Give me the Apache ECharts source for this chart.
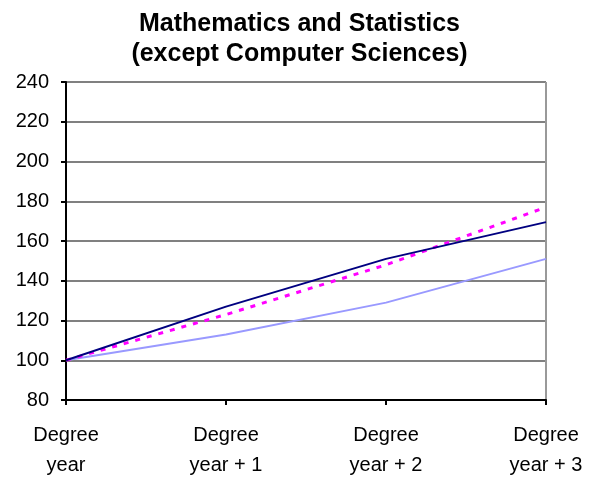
<!DOCTYPE html>
<html><head><meta charset="utf-8">
<script src="https://cdn.jsdelivr.net/npm/echarts@6/dist/echarts.min.js"></script>
<style>html,body{margin:0;padding:0;background:#fff}#c{width:599px;height:477px}</style>
</head><body><div id="c"></div>
<script>
const categories = ["Degree\nyear", "Degree\nyear + 1", "Degree\nyear + 2", "Degree\nyear + 3"];
const seriesNavy = [100, 127, 151, 169.5];
const seriesLight = [100, 113, 129, 151];
const seriesMagenta = [100, 123, 148, 177];
const yTicks = {min: 80, max: 240, interval: 20};

const chart = echarts.init(document.getElementById('c'), null, {renderer: 'canvas'});
const font = 'Liberation Sans, Arial, sans-serif';
chart.setOption({
  animation: false,
  backgroundColor: '#fff',
  title: {
    text: 'Mathematics and Statistics\n(except Computer Sciences)',
    left: 'center', top: 4,
    textStyle: {fontFamily: font, fontSize: 25, fontWeight: 'bold', color: '#000', lineHeight: 30}
  },
  grid: {left: 66, right: 53, top: 82, bottom: 77, containLabel: false, outerBoundsMode: 'none'},
  xAxis: {
    type: 'category', data: categories, boundaryGap: false,
    axisLine: {lineStyle: {color: '#000', width: 2}},
    axisTick: {show: true, length: 5, lineStyle: {color: '#000', width: 2}},
    axisLabel: {fontFamily: font, fontSize: 20, color: '#000', lineHeight: 30, margin: 20},
    splitLine: {show: true, interval: function (i) { return i === categories.length - 1; }, lineStyle: {color: '#999', width: 2}},
    splitArea: {show: false}
  },
  yAxis: {
    type: 'value', min: yTicks.min, max: yTicks.max, interval: yTicks.interval,
    axisLine: {show: true, lineStyle: {color: '#000', width: 2}},
    axisTick: {show: true, length: 5, lineStyle: {color: '#000', width: 2}},
    axisLabel: {fontFamily: font, fontSize: 20, color: '#000', margin: 17},
    splitLine: {show: true, lineStyle: {color: '#808080', width: 2}}
  },
  series: [
    {type: 'line', data: seriesLight, showSymbol: false, lineStyle: {color: '#9999FF', width: 2}, z: 2},
    {type: 'line', data: seriesMagenta, showSymbol: false, lineStyle: {color: '#FF00FF', width: 3, type: [5, 7]}, z: 3},
    {type: 'line', data: seriesNavy, showSymbol: false, lineStyle: {color: '#000080', width: 2}, z: 4}
  ]
});
</script></body></html>
